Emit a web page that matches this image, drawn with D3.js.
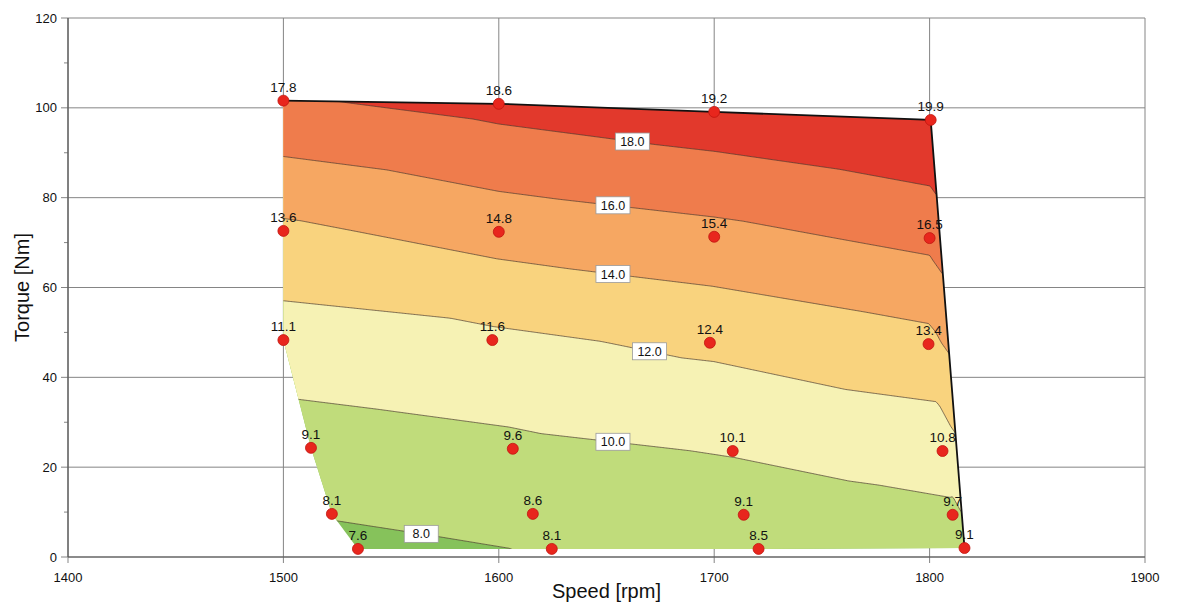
<!DOCTYPE html>
<html><head><meta charset="utf-8">
<script src="https://cdn.jsdelivr.net/npm/d3@7"></script>
<style>
html,body{margin:0;padding:0;background:#fff;}
svg{display:block;font-family:"Liberation Sans",Arial,Helvetica,sans-serif;}
</style></head>
<body>
<svg id="chart" width="1177" height="608"></svg>
<script>
// ---- data ----
const speedRows = [
  [1500, 1600, 1700, 1800.5],
  [1500, 1600, 1700, 1800],
  [1500, 1597, 1698, 1799.5],
  [1512.8, 1606.5, 1708.6, 1806],
  [1522.5, 1615.8, 1713.7, 1810.7],
  [1534.6, 1624.6, 1720.6, 1816.2]
];
const torqueRows = [
  [101.6, 100.9, 99.1, 97.3],
  [72.6, 72.4, 71.3, 71.0],
  [48.3, 48.3, 47.7, 47.4],
  [24.3, 24.1, 23.6, 23.6],
  [9.6, 9.6, 9.4, 9.4],
  [1.8, 1.8, 1.8, 2.0]
];
const valueRows = [
  [17.8, 18.6, 19.2, 19.9],
  [13.6, 14.8, 15.4, 16.5],
  [11.1, 11.6, 12.4, 13.4],
  [9.1, 9.6, 10.1, 10.8],
  [8.1, 8.6, 9.1, 9.7],
  [7.6, 8.1, 8.5, 9.1]
];
const levels = [8, 10, 12, 14, 16, 18];
const bandColors = ["#86c25b", "#c0dc7b", "#f6f2b4", "#f9d37e", "#f6a762", "#ef7c4c", "#e2392c"];
const labelLevels = [18, 16, 14, 12, 10, 8];
const labelSpeeds = [1662, 1653, 1653, 1670, 1653, 1564];
const xTicks = [1400, 1500, 1600, 1700, 1800, 1900];
const yTicks = [0, 20, 40, 60, 80, 100, 120];
const yMinorTicks = [10, 30, 50, 70, 90, 110];

// ---- setup ----
const svg = d3.select("#chart");
const x = d3.scaleLinear().domain([1400, 1900]).range([68, 1145]);
const y = d3.scaleLinear().domain([0, 120]).range([557, 18]);

const pts = [];
speedRows.forEach((row, r) => row.forEach((s, c) => {
  pts.push({speed: s, torque: torqueRows[r][c], value: valueRows[r][c], px: x(s), py: y(torqueRows[r][c])});
}));

const delaunay = d3.Delaunay.from(pts, d => d.px, d => d.py);
const tris = [];
for (let i = 0; i < delaunay.triangles.length; i += 3) {
  tris.push([pts[delaunay.triangles[i]], pts[delaunay.triangles[i+1]], pts[delaunay.triangles[i+2]]]);
}
const hull = delaunay.hullPolygon();

function interp(px, py) {
  for (const [a, b, c] of tris) {
    const det = (b.py - c.py) * (a.px - c.px) + (c.px - b.px) * (a.py - c.py);
    const l1 = ((b.py - c.py) * (px - c.px) + (c.px - b.px) * (py - c.py)) / det;
    const l2 = ((c.py - a.py) * (px - c.px) + (a.px - c.px) * (py - c.py)) / det;
    const l3 = 1 - l1 - l2;
    if (l1 >= -1e-9 && l2 >= -1e-9 && l3 >= -1e-9) return l1 * a.value + l2 * b.value + l3 * c.value;
  }
  let best = Infinity, val = 0;
  const hi = delaunay.hull;
  for (let k = 0; k < hi.length; k++) {
    const a = pts[hi[k]], b = pts[hi[(k + 1) % hi.length]];
    const dx = b.px - a.px, dy = b.py - a.py;
    let t = ((px - a.px) * dx + (py - a.py) * dy) / (dx * dx + dy * dy);
    t = Math.max(0, Math.min(1, t));
    const qx = a.px + t * dx, qy = a.py + t * dy;
    const d = (px - qx) ** 2 + (py - qy) ** 2;
    if (d < best) { best = d; val = a.value + t * (b.value - a.value); }
  }
  return val;
}

// ---- grid & axes ----
const gGrid = svg.append("g");
gGrid.selectAll("line.v").data(xTicks).join("line")
  .attr("x1", d => x(d)).attr("x2", d => x(d)).attr("y1", y(120)).attr("y2", y(0) + 6)
  .attr("stroke", "#858585").attr("stroke-width", 1);
gGrid.selectAll("line.h").data(yTicks).join("line")
  .attr("x1", x(1400) - 7).attr("x2", x(1900)).attr("y1", d => y(d)).attr("y2", d => y(d))
  .attr("stroke", "#858585").attr("stroke-width", 1);
gGrid.selectAll("line.m").data(yMinorTicks).join("line")
  .attr("x1", x(1400) - 4).attr("x2", x(1400)).attr("y1", d => y(d)).attr("y2", d => y(d))
  .attr("stroke", "#858585").attr("stroke-width", 1);
gGrid.append("line").attr("x1", x(1400)).attr("x2", x(1400)).attr("y1", y(120)).attr("y2", y(0))
  .attr("stroke", "#555").attr("stroke-width", 1.2);
gGrid.append("line").attr("x1", x(1400)).attr("x2", x(1900)).attr("y1", y(0)).attr("y2", y(0))
  .attr("stroke", "#555").attr("stroke-width", 1.2);

svg.append("g").selectAll("text").data(xTicks).join("text")
  .attr("x", d => x(d)).attr("y", y(0) + 25).attr("text-anchor", "middle")
  .attr("font-size", 13).attr("fill", "#111").text(d => d);
svg.append("g").selectAll("text").data(yTicks).join("text")
  .attr("x", x(1400) - 11).attr("y", d => y(d) + 4.5).attr("text-anchor", "end")
  .attr("font-size", 13).attr("fill", "#111").text(d => d);

svg.append("text").attr("x", (x(1400) + x(1900)) / 2).attr("y", 598).attr("text-anchor", "middle")
  .attr("font-size", 20).attr("fill", "#111").text("Speed [rpm]");
svg.append("text").attr("transform", `translate(29,${(y(0) + y(120)) / 2}) rotate(-90)`)
  .attr("text-anchor", "middle").attr("font-size", 20).attr("fill", "#111").text("Torque [Nm]");

// ---- contour field ----
const step = 1.5;
const x0 = x.range()[0], x1 = x.range()[1], y0 = y.range()[1], y1 = y.range()[0];
const nx = Math.ceil((x1 - x0) / step), ny = Math.ceil((y1 - y0) / step);
const gx = d3.scaleLinear().domain([0, nx]).range([x0, x0 + nx * step]);
const gy = d3.scaleLinear().domain([0, ny]).range([y0, y0 + ny * step]);
const values = new Float64Array(nx * ny);
for (let j = 0; j < ny; j++) for (let i = 0; i < nx; i++) {
  values[j * nx + i] = interp(gx(i + 0.5), gy(j + 0.5));
}
const thresholds = [0].concat(levels);
const contours = d3.contours().size([nx, ny]).thresholds(thresholds)(values);
const proj = d3.geoTransform({point: function(px, py) { this.stream.point(gx(px), gy(py)); }});
const path = d3.geoPath(proj);

svg.append("clipPath").attr("id", "hullClip").append("path")
  .attr("d", "M" + hull.map(p => p.join(",")).join("L") + "Z");

const gC = svg.append("g").attr("clip-path", "url(#hullClip)");
gC.selectAll("path.band").data(contours).join("path")
  .attr("d", path).attr("fill", (d, i) => bandColors[i]).attr("stroke", "none");
gC.selectAll("path.iso").data(contours.slice(1)).join("path")
  .attr("d", path).attr("fill", "none").attr("stroke", "#4a3a30").attr("stroke-width", 0.7);

// ---- outline (top & right) ----
const outline = pts.slice(0, 4).concat([pts[pts.length - 1]]);
svg.append("path").attr("d", d3.line().x(d => d.px).y(d => d.py)(outline))
  .attr("fill", "none").attr("stroke", "#111").attr("stroke-width", 1.8);

// ---- contour labels ----
const gL = svg.append("g");
labelLevels.forEach((lv, k) => {
  const px = x(labelSpeeds[k]);
  let ty = null;
  let prev = interp(px, y(0));
  for (let t = 0.05; t <= 120; t += 0.05) {
    const v = interp(px, y(t));
    if ((prev - lv) * (v - lv) <= 0) { ty = t; break; }
    prev = v;
  }
  if (ty === null) return;
  const py = y(ty);
  gL.append("rect").attr("x", px - 17).attr("y", py - 8.5).attr("width", 34).attr("height", 17)
    .attr("fill", "#fff").attr("stroke", "#9a9a9a").attr("stroke-width", 0.8);
  gL.append("text").attr("x", px).attr("y", py + 4.5).attr("text-anchor", "middle")
    .attr("font-size", 12.5).attr("fill", "#111").text(lv.toFixed(1));
});

// ---- points ----
const gP = svg.append("g");
gP.selectAll("circle").data(pts).join("circle")
  .attr("cx", d => d.px).attr("cy", d => d.py).attr("r", 5.5)
  .attr("fill", "#e8261d").attr("stroke", "#c0150f").attr("stroke-width", 0.8);
gP.selectAll("text").data(pts).join("text")
  .attr("x", d => d.px).attr("y", d => d.py - 9).attr("text-anchor", "middle")
  .attr("font-size", 13.5).attr("fill", "#111").text(d => d.value.toFixed(1));
</script>
</body></html>
